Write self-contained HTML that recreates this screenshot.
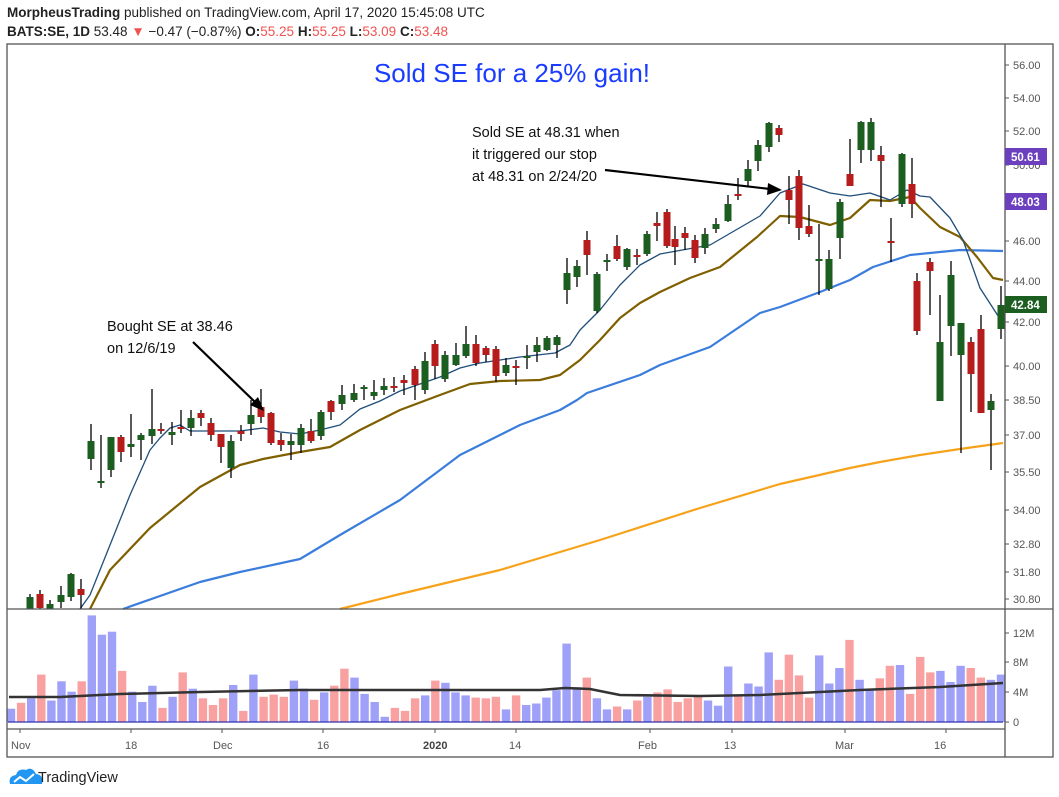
<!DOCTYPE html>
<html><head><meta charset="utf-8"><style>
body{margin:0;background:#fff;width:1059px;height:797px;overflow:hidden;font-family:"Liberation Sans",sans-serif}
svg{position:absolute;left:0;top:0}
</style></head><body>
<svg id="s" width="1059" height="797" xmlns="http://www.w3.org/2000/svg" font-family="Liberation Sans, sans-serif">
<text x="7" y="17" font-size="13.5" fill="#222"><tspan font-weight="bold">MorpheusTrading</tspan> published on TradingView.com, April 17, 2020 15:45:08 UTC</text>
<text x="7" y="36" font-size="13.5" fill="#222"><tspan font-weight="bold">BATS:SE, 1D</tspan> 53.48 <tspan fill="#ef5350">▼</tspan> −0.47 (−0.87%) <tspan font-weight="bold">O:</tspan><tspan fill="#ef5350">55.25</tspan> <tspan font-weight="bold">H:</tspan><tspan fill="#ef5350">55.25</tspan> <tspan font-weight="bold">L:</tspan><tspan fill="#ef5350">53.09</tspan> <tspan font-weight="bold">C:</tspan><tspan fill="#ef5350">53.48</tspan></text>
<g id="g"></g>
<rect x="7" y="44" width="1046" height="713" fill="none" stroke="#555" stroke-width="1.3"/>
<line x1="1005" y1="44" x2="1005" y2="757" stroke="#555" stroke-width="1.3"/>
<line x1="7" y1="609" x2="1053" y2="609" stroke="#555" stroke-width="1.3"/>
<line x1="7" y1="729" x2="1005" y2="729" stroke="#555" stroke-width="1.3"/>
<text x="512" y="82" font-size="26" fill="#1a3cff" text-anchor="middle">Sold SE for a 25% gain!</text>
<text font-size="14.5" fill="#111"><tspan x="472" y="137">Sold SE at 48.31 when</tspan><tspan x="472" y="159">it triggered our stop</tspan><tspan x="472" y="181">at 48.31 on 2/24/20</tspan></text>
<text font-size="14.5" fill="#111"><tspan x="107" y="331">Bought SE at 38.46</tspan><tspan x="107" y="353">on 12/6/19</tspan></text>
<line x1="605" y1="170" x2="770" y2="189" stroke="#000" stroke-width="2.2"/>
<polygon points="782,190 768,183 767,195" fill="#000"/>
<line x1="193" y1="342" x2="255" y2="402" stroke="#000" stroke-width="2.2"/>
<polygon points="264,411 250,405 258,397" fill="#000"/>
<g stroke="#555" stroke-width="1">
<line x1="1005" y1="65" x2="1009" y2="65"/><line x1="1005" y1="98" x2="1009" y2="98"/><line x1="1005" y1="131" x2="1009" y2="131"/><line x1="1005" y1="165" x2="1009" y2="165"/><line x1="1005" y1="241" x2="1009" y2="241"/><line x1="1005" y1="281" x2="1009" y2="281"/><line x1="1005" y1="322" x2="1009" y2="322"/><line x1="1005" y1="366" x2="1009" y2="366"/><line x1="1005" y1="400" x2="1009" y2="400"/><line x1="1005" y1="435" x2="1009" y2="435"/><line x1="1005" y1="472" x2="1009" y2="472"/><line x1="1005" y1="510" x2="1009" y2="510"/><line x1="1005" y1="544" x2="1009" y2="544"/><line x1="1005" y1="572" x2="1009" y2="572"/><line x1="1005" y1="599" x2="1009" y2="599"/>
<line x1="1005" y1="633" x2="1009" y2="633"/><line x1="1005" y1="662" x2="1009" y2="662"/><line x1="1005" y1="692" x2="1009" y2="692"/><line x1="1005" y1="722" x2="1009" y2="722"/>
<line x1="20" y1="729" x2="20" y2="733"/><line x1="131" y1="729" x2="131" y2="733"/><line x1="222" y1="729" x2="222" y2="733"/><line x1="323" y1="729" x2="323" y2="733"/><line x1="435" y1="729" x2="435" y2="733"/><line x1="516" y1="729" x2="516" y2="733"/><line x1="650" y1="729" x2="650" y2="733"/><line x1="732" y1="729" x2="732" y2="733"/><line x1="845" y1="729" x2="845" y2="733"/><line x1="946" y1="729" x2="946" y2="733"/>
</g>
<g font-size="11" fill="#555">
<text x="1013" y="69">56.00</text><text x="1013" y="102">54.00</text><text x="1013" y="135">52.00</text><text x="1013" y="169">50.00</text>
<text x="1013" y="245">46.00</text><text x="1013" y="285">44.00</text><text x="1013" y="326">42.00</text><text x="1013" y="370">40.00</text>
<text x="1013" y="404">38.50</text><text x="1013" y="439">37.00</text><text x="1013" y="476">35.50</text><text x="1013" y="514">34.00</text>
<text x="1013" y="548">32.80</text><text x="1013" y="576">31.80</text><text x="1013" y="603">30.80</text>
<text x="1013" y="637">12M</text><text x="1013" y="666">8M</text><text x="1013" y="696">4M</text><text x="1013" y="726">0</text>
<text x="11" y="749">Nov</text><text x="125" y="749">18</text><text x="213" y="749">Dec</text><text x="317" y="749">16</text>
<text x="423" y="749" font-weight="bold" fill="#444">2020</text><text x="509" y="749">14</text><text x="638" y="749">Feb</text><text x="724" y="749">13</text>
<text x="835" y="749">Mar</text><text x="934" y="749">16</text>
</g>
<rect x="1005" y="148" width="42" height="17" fill="#6b3fbd"/><text x="1011" y="161" font-size="11.5" font-weight="bold" fill="#fff">50.61</text>
<rect x="1005" y="193" width="42" height="17" fill="#6b3fbd"/><text x="1011" y="206" font-size="11.5" font-weight="bold" fill="#fff">48.03</text>
<rect x="1005" y="296" width="42" height="17" fill="#1b5e20"/><text x="1011" y="309" font-size="11.5" font-weight="bold" fill="#fff">42.84</text>
<g transform="translate(8,766)"><path d="M2 18 Q0 10 8 9 Q10 2 18 4 Q24 0 28 8 Q36 9 34 18 Z" fill="#2196f3"/><polyline points="6,16 12,11 18,15 26,8" fill="none" stroke="#fff" stroke-width="2"/></g>
<text x="38" y="782" font-size="14.5" fill="#222">TradingView</text>
</svg>
<script>
var g=document.getElementById('g'),h='';
function L(p,c,w){h+='<polyline points="'+p+'" fill="none" stroke="'+c+'" stroke-width="'+w+'" stroke-linejoin="round"/>';}
var v1=[[1.8,'b'],[2.6,'r'],[3.2,'b'],[6.4,'r'],[2.9,'b'],[5.5,'b'],[4.1,'b'],[5.5,'r'],[14.4,'b'],[11.8,'b'],[12.2,'b'],[6.9,'r'],[4.1,'b'],[2.7,'b'],[4.9,'b'],[1.9,'r'],[3.4,'b'],[6.7,'r'],[4.5,'b'],[3.2,'r'],[2.3,'r'],[3.2,'r'],[5.0,'b'],[1.5,'r'],[6.4,'b'],[3.4,'r'],[3.7,'r'],[3.4,'r'],[5.6,'b'],[4.5,'b'],[3.0,'r'],[4.0,'b'],[4.9,'r'],[7.2,'r'],[6.0,'b'],[3.8,'b'],[2.7,'b'],[0.7,'b'],[1.9,'r'],
[1.5,'r'],[3.2,'r'],[3.6,'b'],[5.6,'r'],[5.3,'b'],[4.0,'b'],[3.6,'b'],[3.3,'r'],[3.2,'r'],[3.4,'r'],[1.7,'b'],[3.6,'r'],[2.3,'b'],[2.5,'b'],[3.3,'b'],[4.3,'b'],[10.6,'b'],[4.7,'b'],[6.0,'r'],[3.2,'b'],[1.7,'b'],[2.1,'r'],[1.7,'b'],[2.9,'r'],[3.4,'b'],[4.0,'r'],[4.4,'r'],[2.7,'r'],[3.2,'r'],[3.4,'r'],[2.9,'b'],[2.2,'b'],[7.5,'b'],[3.5,'r'],[5.2,'b'],[4.8,'b'],[9.4,'b'],[5.7,'r'],[9.1,'r'],[6.3,'r'],[3.3,'r'],[9.0,'b'],[5.2,'b'],[7.3,'b'],[11.1,'r'],[5.7,'b'],[4.5,'b'],[5.9,'r'],[7.6,'r'],[7.7,'b'],[3.8,'r'],[8.8,'r'],[6.7,'r'],[6.9,'b'],[5.4,'b'],[7.6,'b'],[7.3,'r'],[6.0,'r'],[5.7,'b'],[6.4,'b']];
var sp=(1001-11)/(v1.length-1);
for(var i=0;i<v1.length;i++){var x=11+i*sp,hh=v1[i][0]*7.4;h+='<rect x="'+(x-4.2).toFixed(1)+'" y="'+(722-hh).toFixed(1)+'" width="8.4" height="'+hh.toFixed(1)+'" fill="'+(v1[i][1]=='b'?'#9fa0f8':'#f9a1a1')+'"/>';}
h+='<line x1="8" y1="722" x2="1003" y2="722" stroke="#3030b0" stroke-width="1.2"/>';
L('9,697 60,697 120,694 200,692 300,690 400,690 480,690 540,690 565,688 590,689 620,695 700,696 760,695 860,690 940,687 1003,683','#333',2.5);
L('340,609 400,594 500,570 600,540 700,508 780,484 850,468 880,462 920,455 960,449 1003,443','#f7a21b',2.2);
L('123,609 200,582 240,572 300,559 340,535 400,500 460,455 520,425 560,410 577,400 587,393 640,375 660,365 710,347 760,313 780,307 820,292 850,280 873,267 910,255 960,250 1003,251','#3b7ddd',2.2);
L('90,609 110,570 150,528 200,487 240,465 263,459 300,452 330,447 360,430 400,410 440,395 470,384 500,381 540,380 560,375 580,360 600,340 620,318 640,303 660,292 690,278 720,267 757,237 780,216 800,217 830,225 850,218 870,200 890,201 910,197 920,208 940,227 960,237 977,257 993,278 1003,280','#7f6000',2.2);
L('80,609 90,595 100,570 110,545 130,495 150,450 160,438 170,428 180,425 190,431 240,431 263,428 280,432 300,434 320,430 340,425 360,409 380,401 400,391 420,384 440,377 460,368 480,363 500,360 520,357 555,353 570,345 580,330 600,310 620,285 640,265 660,254 710,245 760,216 780,193 803,184 830,193 850,196 870,193 890,200 907,190 920,196 930,197 950,218 963,240 980,288 1002,322','#1f4e79',1.3);
var c=[[30,597,609,594,609,'g'],[40,594,608,590,609,'r'],[50,604,609,600,609,'g'],[61,595,602,586,608,'g'],[71,574,597,573,601,'g'],[81,589,595,579,609,'r'],
[91,441,459,424,470,'g'],[101,481,483,435,488,'g'],[111,437,470,437,477,'g'],[121,437,452,435,462,'r'],[131,444,447,414,457,'g'],[141,435,440,433,460,'g'],[152,429,436,389,444,'g'],[161,429,431,423,434,'r'],[172,432,435,422,445,'g'],[181,427,428,410,433,'r'],[191,418,428,410,436,'g'],[201,413,418,410,426,'r'],[211,423,435,418,441,'r'],[221,434,447,434,463,'r'],[231,441,468,435,478,'g'],[241,431,434,425,441,'r'],[251,415,424,400,435,'g'],[261,407,417,389,423,'r'],[271,413,443,412,445,'r'],[281,440,445,433,451,'r'],[291,441,445,434,460,'g'],[301,428,445,424,453,'g'],[311,431,441,419,443,'r'],[321,412,436,410,440,'g'],[331,401,412,400,420,'r'],[342,395,404,385,410,'g'],
[354,393,400,384,402,'g'],[364,387,389,385,400,'g'],[374,392,396,380,400,'g'],[384,386,390,378,395,'g'],[394,386,388,377,392,'r'],[404,380,383,375,395,'r'],[415,369,385,366,400,'r'],[425,361,390,352,394,'g'],[435,344,366,340,379,'r'],[445,355,379,351,382,'g'],[456,355,365,343,366,'g'],[466,344,356,326,358,'g'],[476,344,363,335,366,'r'],[486,348,355,346,362,'r'],[496,349,376,346,382,'r'],[506,365,373,358,376,'g'],[516,366,368,360,385,'r'],[527,356,358,345,369,'g'],[537,345,352,337,362,'g'],[547,338,350,336,351,'g'],[557,337,345,335,358,'g'],[567,273,290,258,304,'g'],[577,266,277,260,287,'g'],[587,240,255,231,275,'r'],[597,274,311,272,313,'g'],[607,260,262,254,271,'g'],[617,246,259,235,261,'r'],[627,249,267,248,270,'g'],[637,255,256,249,265,'r'],[647,234,254,231,256,'g'],[657,223,226,212,241,'r'],[667,212,246,209,248,'r'],
[675,239,247,226,265,'r'],[685,233,238,227,250,'r'],[695,240,258,235,263,'r'],[705,234,248,228,254,'g'],[716,224,229,218,233,'g'],[728,204,221,195,222,'g'],[738,194,195,178,200,'r'],[748,169,181,160,187,'g'],[758,145,161,140,171,'g'],[769,123,147,122,152,'g'],[779,128,135,125,142,'r'],[789,190,200,176,224,'r'],[799,176,228,170,240,'r'],[809,226,234,205,237,'r'],[819,259,261,224,295,'g'],[829,259,289,250,291,'g'],[840,202,238,199,259,'g'],[850,174,186,139,186,'r'],[861,122,150,121,163,'g'],[871,122,150,118,161,'g'],[881,155,161,146,207,'r'],[891,241,243,218,262,'r'],[902,154,204,153,207,'g'],[912,184,204,158,218,'r'],[917,281,331,273,335,'r'],[930,262,271,258,315,'r'],[940,342,401,295,401,'g'],[951,275,326,261,356,'g'],[961,323,355,323,453,'g'],[971,342,374,337,412,'r'],[981,329,413,315,413,'r'],[991,401,410,394,470,'g'],[1001,305,329,286,339,'g']];
for(var i=0;i<c.length;i++){var d=c[i],col=d[5]=='g'?'#1b5e20':'#b71c1c';
h+='<line x1="'+d[0]+'" y1="'+d[3]+'" x2="'+d[0]+'" y2="'+Math.min(d[4],609)+'" stroke="#000" stroke-width="1.3"/>';
h+='<rect x="'+(d[0]-3.5)+'" y="'+d[1]+'" width="7" height="'+Math.max(2,Math.min(d[2],609)-d[1])+'" fill="'+col+'"/>';}
g.innerHTML=h;
</script>
</body></html>
